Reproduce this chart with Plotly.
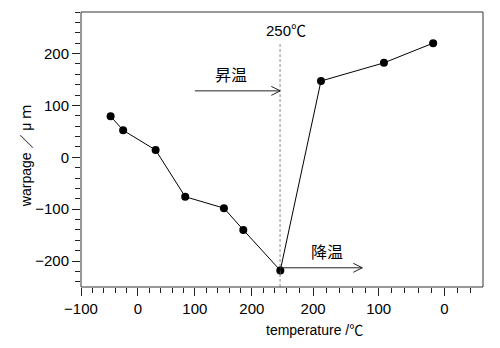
import plotly.graph_objects as go

# ---- data ----
heat_temp = [-48, -26, 31, 83, 151, 185, 250]      # heating branch, °C
heat_warp = [79, 52, 14, -76, -98, -140, -218]      # µm
cool_temp = [250, 188, 92, 17]                      # cooling branch, °C
cool_warp = [-218, 147, 182, 220]                   # µm

heat_ticks = [-100, 0, 100, 200]
cool_ticks = [200, 100, 0]
y_ticks = [-200, -100, 0, 100, 200]

peak_temp = 250
heat_range = [-100, 250]
cool_range = [250, -59]
y_range = [-250, 280]

heat_arrow = (100, 250, 128)     # x start, x end, y
cool_arrow = (250, 125, -213)

FONT = "Liberation Sans, Arial, Noto Sans CJK JP, sans-serif"
split = 0.4958

fig = go.Figure()
fig.add_trace(go.Scatter(x=heat_temp, y=heat_warp, mode="lines+markers",
                         line=dict(color="black", width=1),
                         marker=dict(color="black", size=8),
                         xaxis="x", yaxis="y", showlegend=False))
fig.add_trace(go.Scatter(x=cool_temp, y=cool_warp, mode="lines+markers",
                         line=dict(color="black", width=1),
                         marker=dict(color="black", size=8),
                         xaxis="x2", yaxis="y", showlegend=False))

axis_common = dict(ticks="outside", ticklen=8, tickwidth=1, tickcolor="#222",
                   showgrid=False, zeroline=False, showline=False,
                   tickfont=dict(family=FONT, size=15, color="black"),
                   minor=dict(dtick=20, ticks="outside", ticklen=5, tickwidth=1, tickcolor="#222"))

fig.update_layout(
    width=500, height=348,
    margin=dict(l=81, r=17, t=12, b=61),
    paper_bgcolor="white", plot_bgcolor="white",
    xaxis=dict(domain=[0, split], range=heat_range, tickvals=heat_ticks,
               anchor="y", **axis_common),
    xaxis2=dict(domain=[split, 1], range=cool_range, tickvals=cool_ticks,
                anchor="y", **axis_common),
    yaxis=dict(range=y_range, tickvals=y_ticks, anchor="x", **axis_common),
)

shapes = [
    dict(type="rect", xref="paper", yref="paper", x0=0, y0=0, x1=1, y1=1,
         line=dict(color="#333", width=1)),
    dict(type="line", xref="x", yref="y", x0=peak_temp, x1=peak_temp,
         y0=y_range[0], y1=222, line=dict(color="black", width=1, dash="3px,2px")),
    dict(type="line", xref="x", yref="y", x0=heat_arrow[0], x1=heat_arrow[1],
         y0=heat_arrow[2], y1=heat_arrow[2], line=dict(color="#222", width=1)),
    dict(type="path", xref="x", yref="y", xsizemode="pixel", ysizemode="pixel",
         xanchor=heat_arrow[1], yanchor=heat_arrow[2],
         path="M -9,-4.5 L 0,0 L -9,4.5", line=dict(color="#222", width=1)),
    dict(type="line", xref="x2", yref="y", x0=cool_arrow[0], x1=cool_arrow[1],
         y0=cool_arrow[2], y1=cool_arrow[2], line=dict(color="#222", width=1)),
    dict(type="path", xref="x2", yref="y", xsizemode="pixel", ysizemode="pixel",
         xanchor=cool_arrow[1], yanchor=cool_arrow[2],
         path="M -9,-4.5 L 0,0 L -9,4.5", line=dict(color="#222", width=1)),
]
fig.update_layout(shapes=shapes)

annots = [
    dict(text="250℃", x=peak_temp, y=245, xref="x", yref="y", xshift=6,
         showarrow=False, font=dict(family=FONT, size=15, color="black")),
    dict(text="昇温", x=164, y=160, xref="x", yref="y", showarrow=False,
         font=dict(family="Noto Sans CJK JP", size=16, color="black")),
    dict(text="降温", x=179, y=-180, xref="x2", yref="y", showarrow=False,
         font=dict(family="Noto Sans CJK JP", size=16, color="black")),
    dict(text="temperature /℃", x=0.581, y=-0.158, xref="paper", yref="paper",
         xanchor="center", yanchor="middle",
         showarrow=False, font=dict(family=FONT, size=14, color="black")),
    dict(text="warpage ／ μ ｍ", x=-0.138, y=0.474, xref="paper", yref="paper",
         xanchor="center", yanchor="middle",
         textangle=-90, showarrow=False, font=dict(family=FONT, size=14, color="black")),
]
fig.update_layout(annotations=annots)

fig.write_html("out.html")
